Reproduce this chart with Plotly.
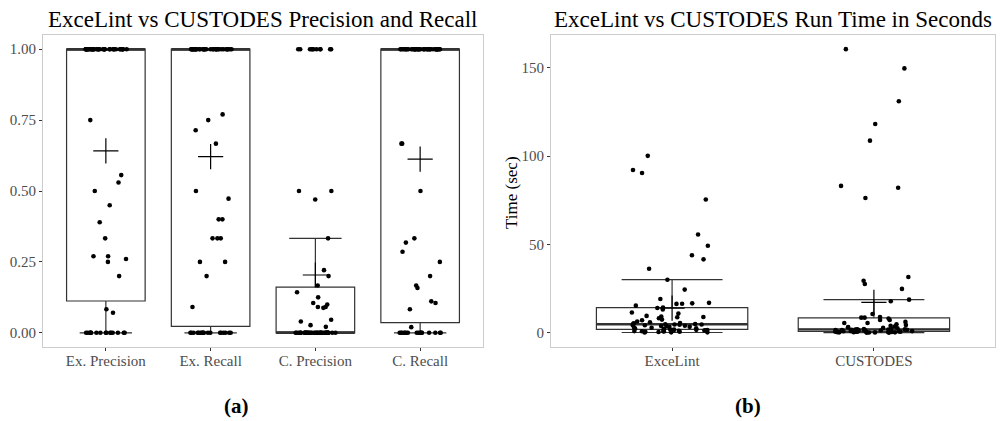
import numpy as np
import plotly.graph_objects as go

# ---------------- data ----------------
pr_categories = ["Ex. Precision", "Ex. Recall", "C. Precision", "C. Recall"]

ex_precision = [
    0, 0, 0, 0, 0, 0, 0, 0, 0, 0, 0, 0, 0, 0, 0, 0,
    0.071, 0.083, 0.2, 0.25, 0.26, 0.27, 0.27, 0.333, 0.39, 0.45, 0.5, 0.53, 0.556, 0.75,
    1, 1, 1, 1, 1, 1, 1, 1, 1, 1,
    1, 1, 1, 1, 1, 1, 1, 1, 1, 1,
    1, 1, 1, 1, 1, 1, 1, 1, 1, 1,
    1, 1, 1, 1, 1, 1, 1, 1, 1, 1,
]
ex_recall = [
    0, 0, 0, 0, 0, 0, 0, 0, 0, 0, 0, 0, 0, 0, 0, 0, 0, 0,
    0.091, 0.2, 0.25, 0.25, 0.333, 0.333, 0.333, 0.4, 0.4, 0.473, 0.5, 0.667, 0.714, 0.75, 0.77,
    1, 1, 1, 1, 1, 1, 1, 1, 1, 1,
    1, 1, 1, 1, 1, 1, 1, 1, 1, 1,
    1, 1, 1, 1, 1, 1, 1, 1, 1, 1,
    1, 1, 1, 1, 1, 1, 1,
]
c_precision = [
    0, 0, 0, 0, 0, 0, 0, 0, 0, 0,
    0, 0, 0, 0, 0, 0, 0, 0, 0, 0,
    0, 0, 0, 0, 0, 0, 0, 0, 0, 0,
    0, 0, 0, 0, 0, 0, 0, 0, 0, 0, 0,
    0.021, 0.027, 0.04, 0.046, 0.088, 0.091, 0.091, 0.1, 0.105, 0.125, 0.143, 0.167,
    0.2, 0.221, 0.333, 0.47, 0.5, 0.5,
    1, 1, 1, 1, 1, 1, 1, 1, 1, 1, 1,
]
c_recall = [
    0, 0, 0, 0, 0, 0, 0, 0, 0, 0, 0, 0, 0, 0, 0, 0, 0,
    0.02, 0.083, 0.105, 0.111, 0.158, 0.167, 0.2, 0.25, 0.286, 0.318, 0.333, 0.5, 0.667, 0.667,
    1, 1, 1, 1, 1, 1, 1, 1, 1, 1,
    1, 1, 1, 1, 1, 1, 1, 1, 1, 1,
    1, 1, 1, 1, 1, 1, 1, 1, 1, 1,
    1, 1, 1, 1, 1, 1, 1, 1, 1,
]

rt_categories = ["ExceLint", "CUSTODES"]
excelint_time = [
    0.2, 0.3, 0.3, 0.5, 0.6, 0.6, 0.8, 0.9, 1.0, 1.0, 1.2, 1.3, 1.3, 1.5, 1.6, 1.7, 1.8, 1.9,
    2.1, 2.2, 2.5, 2.6, 2.9, 3.0, 3.3, 3.4, 3.7, 3.9, 4.0, 4.3, 4.4, 4.6, 4.7, 4.7, 4.8,
    5.0, 5.2, 5.4, 5.6, 6.0, 6.4, 7.1, 7.5, 8.3, 8.8, 9.0, 9.3, 9.6, 10.9, 11.5, 13.2, 14.1,
    14.4, 15.4, 16.4, 16.5, 16.7, 17.0, 19.2, 24.5, 30.1, 36.3, 41.6, 43.9, 49.3, 55.7,
    75.5, 90.5, 92.2, 100.2,
]
custodes_time = [
    0.1, 0.15, 0.2, 0.25, 0.3, 0.3, 0.35, 0.4, 0.4, 0.45, 0.5, 0.55, 0.6, 0.6, 0.65, 0.7, 0.75, 0.8,
    0.85, 0.9, 1.0, 1.1, 1.2, 1.3, 1.4, 1.5, 1.55, 1.6, 1.65, 1.7, 1.75, 1.8, 1.85, 1.9, 1.95,
    2.05, 2.2, 2.4, 2.6, 2.8, 3.0, 3.3, 3.6, 4.0, 4.4, 4.9, 5.6, 5.6, 6.2, 7.3, 7.3, 8.1,
    8.6, 8.6, 9.0, 10.7, 17.9, 18.8, 24.9, 27.7, 29.5, 31.6,
    76.3, 82.1, 83.2, 108.8, 118.2, 131.1, 149.7, 160.6,
]

pr_ticks = [0, 0.25, 0.5, 0.75, 1.0]
pr_tick_labels = ["0.00", "0.25", "0.50", "0.75", "1.00"]
rt_ticks = [0, 50, 100, 150]
rt_tick_labels = ["0", "50", "100", "150"]

# ---------------- style ----------------
FONT = "Liberation Serif"
LINE = "#333333"
BOX_W = 0.75
ERR_W = 0.5
JIT = 0.2

fig = go.Figure()
rng = np.random.default_rng(11)


def add_group(values, pos, xa, ya):
    v = np.asarray(values, dtype=float)
    q1, med, q3 = np.percentile(v, [25, 50, 75])
    iqr = q3 - q1
    lo = v[v >= q1 - 1.5 * iqr].min()
    hi = v[v <= q3 + 1.5 * iqr].max()
    fig.add_trace(go.Box(
        x=[pos], q1=[q1], median=[med], q3=[q3], lowerfence=[lo], upperfence=[hi],
        width=BOX_W, whiskerwidth=ERR_W / BOX_W, fillcolor="white",
        line=dict(color=LINE, width=1.2), boxpoints=False,
        xaxis=xa, yaxis=ya, showlegend=False, hoverinfo="skip"))
    fig.add_trace(go.Scatter(
        x=[pos - BOX_W / 2, pos + BOX_W / 2], y=[med, med], mode="lines",
        line=dict(color=LINE, width=2.4), xaxis=xa, yaxis=ya,
        showlegend=False, hoverinfo="skip"))
    jit = rng.uniform(-JIT, JIT, size=len(v))
    fig.add_trace(go.Scatter(
        x=pos + jit, y=v, mode="markers",
        marker=dict(size=4.6, color="black"), xaxis=xa, yaxis=ya,
        showlegend=False, hoverinfo="skip"))
    fig.add_trace(go.Scatter(
        x=[pos], y=[v.mean()], mode="markers",
        marker=dict(symbol="cross-thin", size=18, color="black",
                    line=dict(width=1.2, color="black")),
        xaxis=xa, yaxis=ya, showlegend=False, hoverinfo="skip"))


for i, vals in enumerate([ex_precision, ex_recall, c_precision, c_recall]):
    add_group(vals, i + 1, "x", "y")
for i, vals in enumerate([excelint_time, custodes_time]):
    add_group(vals, i + 1, "x2", "y2")

H = 421.0
ydom = [1 - 347 / H, 1 - 35 / H]
axis_common = dict(
    showline=True, mirror=True, linecolor="#cccccc", linewidth=1,
    ticks="outside", ticklen=3, tickcolor=LINE, tickwidth=1,
    showgrid=False, zeroline=False,
    tickfont=dict(family=FONT, size=15, color="#4d4d4d"),
)

fig.update_layout(
    width=1000, height=421,
    margin=dict(l=0, r=0, t=0, b=0),
    paper_bgcolor="white", plot_bgcolor="white",
    font=dict(family=FONT, color="black"),
    xaxis=dict(domain=[0.043, 0.483], range=[0.4, 4.6], tickvals=[1, 2, 3, 4],
               ticktext=pr_categories, anchor="y", ticklabelstandoff=-3, **axis_common),
    yaxis=dict(domain=ydom, range=[-0.05, 1.05], tickvals=pr_ticks,
               ticktext=pr_tick_labels, anchor="x", **axis_common),
    xaxis2=dict(domain=[0.551, 0.995], range=[0.4, 2.6], tickvals=[1, 2],
                ticktext=rt_categories, anchor="y2", ticklabelstandoff=-3, **axis_common),
    yaxis2=dict(domain=ydom, range=[-8.0, 168.6], tickvals=rt_ticks,
                ticktext=rt_tick_labels, anchor="x2", **axis_common),
    annotations=[
        dict(text="ExceLint vs CUSTODES Precision and Recall", x=0.263, y=1 - 19 / H,
             xref="paper", yref="paper", showarrow=False, xanchor="center", yanchor="middle",
             font=dict(family=FONT, size=23, color="black")),
        dict(text="ExceLint vs CUSTODES Run Time in Seconds", x=0.773, y=1 - 19 / H,
             xref="paper", yref="paper", showarrow=False, xanchor="center", yanchor="middle",
             font=dict(family=FONT, size=23, color="black")),
        dict(text="Time (sec)", x=0.511, y=1 - 193 / H, textangle=-90,
             xref="paper", yref="paper", showarrow=False, xanchor="center", yanchor="middle",
             font=dict(family=FONT, size=17, color="black")),
        dict(text="<b>(a)</b>", x=0.2365, y=1 - 406 / H,
             xref="paper", yref="paper", showarrow=False, xanchor="center", yanchor="middle",
             font=dict(family=FONT, size=21, color="black")),
        dict(text="<b>(b)</b>", x=0.7475, y=1 - 406 / H,
             xref="paper", yref="paper", showarrow=False, xanchor="center", yanchor="middle",
             font=dict(family=FONT, size=21, color="black")),
    ],
)

fig.write_html("out.html")
